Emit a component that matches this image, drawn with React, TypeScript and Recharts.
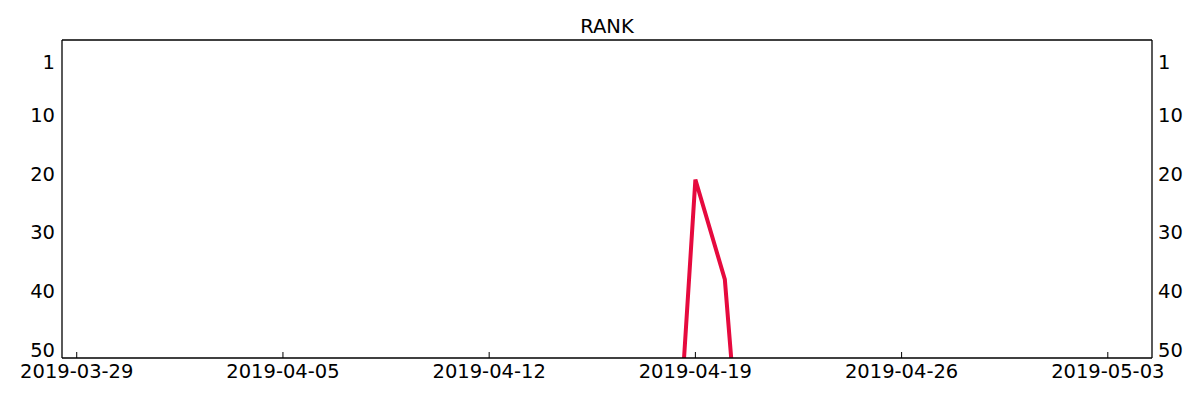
import React from "react";
import { LineChart, Line, XAxis, YAxis, ReferenceLine } from "recharts";

const startDate = "2019-03-29";
const dates = ["2019-04-18", "2019-04-19", "2019-04-20", "2019-04-21"];
const ranks = [100, 21, 38, 100];
const xTickLabels = ["2019-03-29", "2019-04-05", "2019-04-12", "2019-04-19", "2019-04-26", "2019-05-03"];
const yTicks = [1, 10, 20, 30, 40, 50];
const title = "RANK";

const dayOf = (s: string) => {
  const [y, m, d] = s.split("-").map(Number);
  const [y0, m0, d0] = startDate.split("-").map(Number);
  return Math.round((Date.UTC(y, m - 1, d) - Date.UTC(y0, m0 - 1, d0)) / 86400000);
};

const data = dates.map((d, i) => ({ day: dayOf(d), rank: ranks[i] }));
const xTicks = xTickLabels.map(dayOf);
const labelByDay: Record<number, string> = {};
xTickLabels.forEach((l) => (labelByDay[dayOf(l)] = l));

const FONT = "'DejaVu Sans', sans-serif";
const FS = 19.5;
const Y_DOMAIN: [number, number] = [-2.74, 51.36];
const X_MARGIN = 6.5;

const XTick = (props: any) => {
  const { x, y, payload } = props;
  return (
    <g>
      <line x1={x} x2={x} y1={y - X_MARGIN} y2={y - X_MARGIN - 6} stroke="#000" strokeWidth={1} />
      <text x={x} y={y} dy="0.71em" textAnchor="middle" fontFamily={FONT} fontSize={FS} fill="#000">
        {labelByDay[payload.value]}
      </text>
    </g>
  );
};

export default function App() {
  return (
    <div style={{ position: "absolute", left: 0, top: 0, width: 1200, height: 400, background: "#fff" }}>
      <div
        style={{
          position: "absolute",
          left: 62,
          width: 1090,
          top: 16.5,
          textAlign: "center",
          fontFamily: FONT,
          fontSize: FS,
          lineHeight: `${FS}px`,
          color: "#000",
        }}
      >
        {title}
      </div>
      <LineChart width={1200} height={400} data={data} margin={{ top: 40, right: 0, bottom: 0, left: 0 }}>
        <XAxis
          dataKey="day"
          type="number"
          domain={[-0.5, 36.5]}
          ticks={xTicks}
          allowDataOverflow
          height={42}
          tickSize={0}
          tickMargin={X_MARGIN}
          tick={<XTick />}
          axisLine={{ stroke: "#000", strokeWidth: 1.3 }}
          tickLine={false}
          interval={0}
        />
        <YAxis
          yAxisId="left"
          orientation="left"
          reversed
          domain={Y_DOMAIN}
          allowDataOverflow
          ticks={yTicks}
          width={62}
          tickSize={0}
          tickMargin={7}
          tickLine={false}
          axisLine={{ stroke: "#000", strokeWidth: 1.3 }}
          tick={{ fontFamily: FONT, fontSize: FS, fill: "#000" }}
          interval={0}
        />
        <YAxis
          yAxisId="right"
          orientation="right"
          reversed
          domain={Y_DOMAIN}
          allowDataOverflow
          ticks={yTicks}
          width={48}
          tickSize={0}
          tickMargin={6}
          tickLine={false}
          axisLine={{ stroke: "#000", strokeWidth: 1.3 }}
          tick={{ fontFamily: FONT, fontSize: FS, fill: "#000", textAnchor: "start" }}
          interval={0}
        />
        <ReferenceLine yAxisId="left" y={Y_DOMAIN[0]} stroke="#000" strokeWidth={1.3} ifOverflow="visible" />
        <Line
          yAxisId="left"
          dataKey="rank"
          stroke="#e60a3e"
          strokeWidth={4}
          dot={false}
          activeDot={false}
          isAnimationActive={false}
          strokeLinejoin="miter"
        />
      </LineChart>
    </div>
  );
}
